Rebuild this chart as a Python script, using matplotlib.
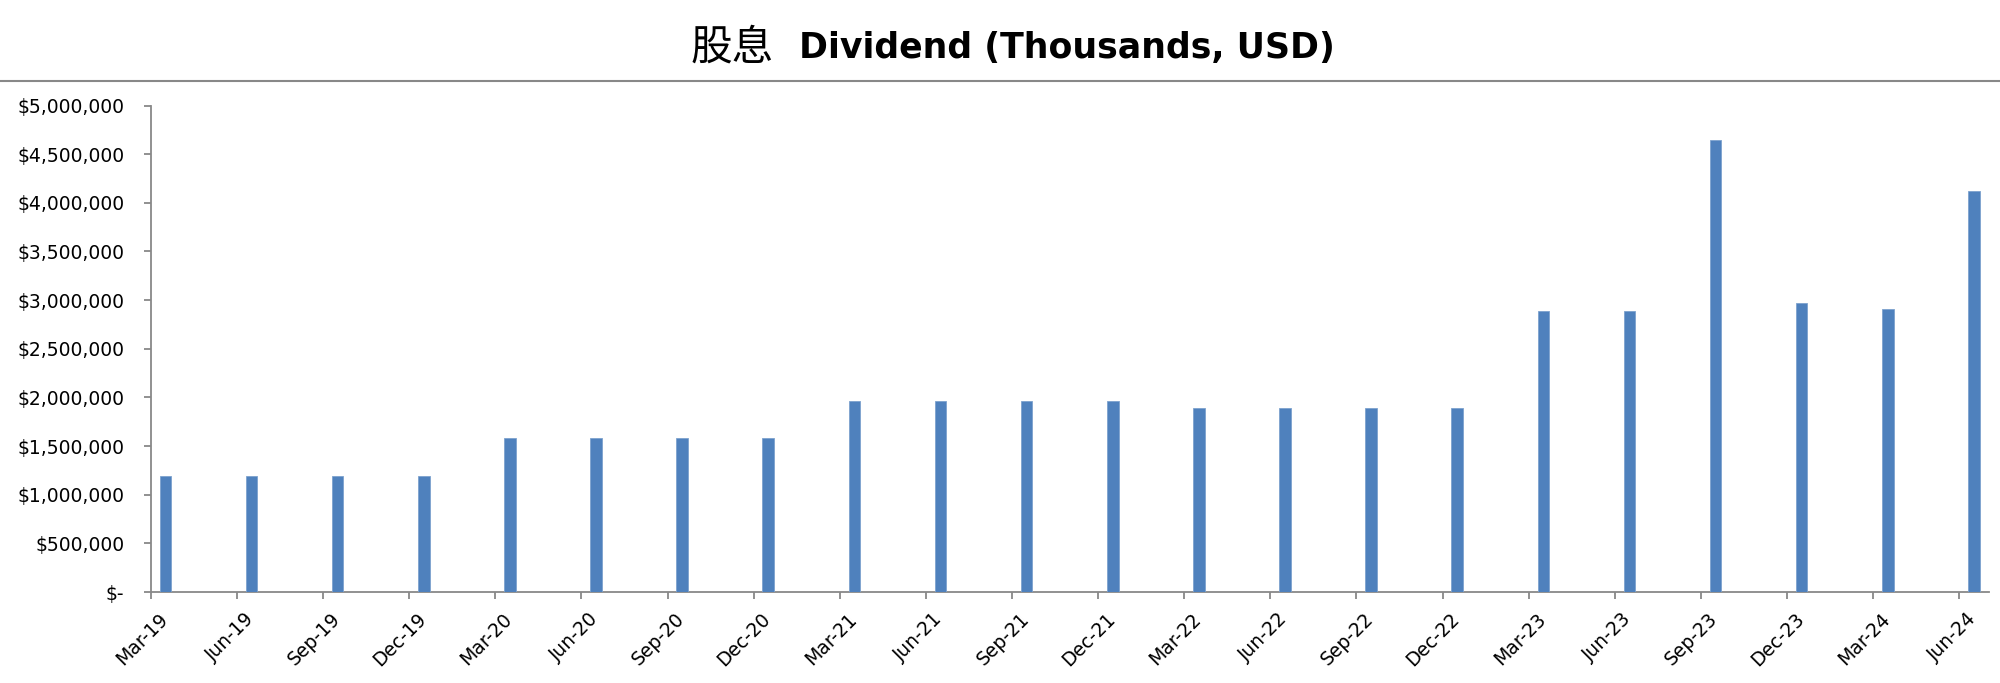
import matplotlib
matplotlib.use("Agg")
import matplotlib.pyplot as plt
from matplotlib.ticker import FuncFormatter, MultipleLocator
from matplotlib.transforms import ScaledTranslation
import numpy as np

# 季度标签和股息数据 (千美元)
quarters = ['Mar-19', 'Jun-19', 'Sep-19', 'Dec-19',
            'Mar-20', 'Jun-20', 'Sep-20', 'Dec-20',
            'Mar-21', 'Jun-21', 'Sep-21', 'Dec-21',
            'Mar-22', 'Jun-22', 'Sep-22', 'Dec-22',
            'Mar-23', 'Jun-23', 'Sep-23', 'Dec-23',
            'Mar-24', 'Jun-24']
dividend = [1194000, 1194000, 1194000, 1194000,
            1579000, 1579000, 1579000, 1579000,
            1961000, 1961000, 1961000, 1961000,
            1887000, 1887000, 1887000, 1887000,
            2893000, 2893000, 4647000, 2969000,
            2911000, 4119000]

title_cn = '股息'
title_en = 'Dividend (Thousands, USD)'

plt.rcParams['font.family'] = ['DejaVu Sans', 'Noto Sans CJK SC']

fig = plt.figure(figsize=(20, 6.83), dpi=100)
ax = fig.add_axes([0.0754, 0.1332, 0.9193, 0.7123])

x = np.arange(len(quarters))
# 柱子稍微偏在刻度右边
ax.bar(x + 0.17, dividend, width=0.135, color='#4F81BD',
       edgecolor='#7DA2CE', linewidth=0.6, zorder=3)

ax.set_xlim(0, 21.35)
ax.set_ylim(0, 5000000)
ax.yaxis.set_major_locator(MultipleLocator(500000))

def money(v, pos):
    if v == 0:
        return '$-'
    return '${:,.0f}'.format(v)

ax.yaxis.set_major_formatter(FuncFormatter(money))
ax.set_xticks(x)
ax.set_xticklabels([])

# 日期标签自己画，往右下挪一点，跟原图一样
lab_trans = ax.get_xaxis_transform() + ScaledTranslation(0.14, -0.24, fig.dpi_scale_trans)
for i, q in enumerate(quarters):
    ax.text(i, 0, q, transform=lab_trans, rotation=45, ha='right', va='center',
            rotation_mode='anchor', fontsize=13.5, clip_on=False)

for s in ['top', 'right']:
    ax.spines[s].set_visible(False)
for s in ['left', 'bottom']:
    ax.spines[s].set_color('#888888')
    ax.spines[s].set_linewidth(1.3)

ax.tick_params(axis='y', length=5, width=1.3, color='#888888', labelsize=13.5, pad=14)
ax.tick_params(axis='x', length=5, width=1.3, color='#888888')

# 标题：中文普通，英文加粗
fig.text(0.387, 0.929, title_cn, ha='right', va='center', fontsize=30,
         family=['Noto Sans CJK SC'])
fig.text(0.3995, 0.929, title_en, ha='left', va='center', fontsize=25,
         fontweight='bold')

# 标题下面的横线
fig.add_artist(plt.Line2D([0, 1], [0.8814, 0.8814], transform=fig.transFigure,
                          color='#888888', linewidth=1.5))

fig.savefig('out.png', dpi=100)
